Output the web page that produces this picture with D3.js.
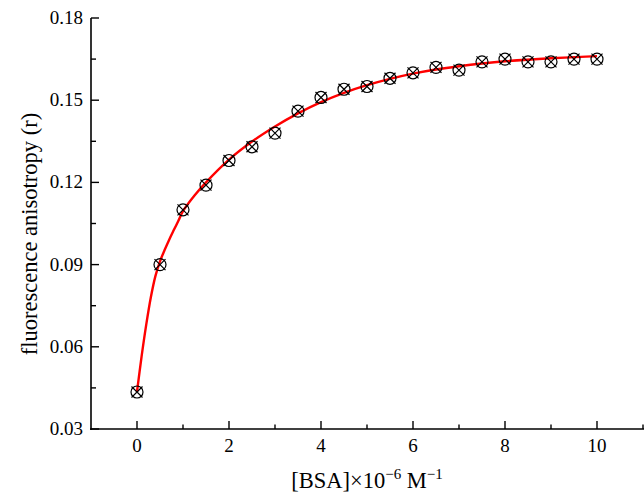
<!DOCTYPE html>
<html>
<head>
<meta charset="utf-8">
<script src="https://cdn.jsdelivr.net/npm/d3@7"></script>
<style>
  body { margin: 0; background: #fff; }
  text { font-family: "Liberation Serif", "Times New Roman", serif; fill: #000; }
</style>
</head>
<body>
<div id="chart"></div>
<script>
// measured points: [BSA] concentration vs anisotropy
var bsa = [0, 0.5, 1, 1.5, 2, 2.5, 3, 3.5, 4, 4.5, 5, 5.5, 6, 6.5, 7, 7.5, 8, 8.5, 9, 9.5, 10];
var anisotropy = [0.0435, 0.090, 0.110, 0.119, 0.128, 0.133, 0.138, 0.146, 0.151, 0.154, 0.155,
                  0.158, 0.160, 0.162, 0.161, 0.164, 0.165, 0.164, 0.164, 0.165, 0.165];

// fitted curve
var fitX = [0, 0.1, 0.2, 0.3, 0.4, 0.5, 0.6, 0.7, 0.8, 0.9, 1, 1.25, 1.5, 2, 2.5, 3, 3.5, 4, 4.5,
            5, 5.5, 6, 6.5, 7, 7.5, 8, 9, 10];
var fitY = [0.0436, 0.0565, 0.0680, 0.0780, 0.0858, 0.0912, 0.0953, 0.0991, 0.1026, 0.1060, 0.1095,
            0.1152, 0.1200, 0.1283, 0.1349, 0.1404, 0.1452, 0.1493, 0.1527, 0.1555, 0.1578, 0.1597,
            0.1612, 0.1624, 0.1634, 0.1642, 0.1653, 0.1661];

var xMajor = [0, 2, 4, 6, 8, 10];
var xMinor = [1, 3, 5, 7, 9, 11];
var yMajor = [0.03, 0.06, 0.09, 0.12, 0.15, 0.18];
var yMinor = [0.045, 0.075, 0.105, 0.135, 0.165];

var width = 644, height = 494;
var margin = { top: 18, left: 91, right: 1, bottom: 65 };

var svg = d3.select("#chart").append("svg")
    .attr("width", width)
    .attr("height", height);

var x = d3.scaleLinear().domain([-1, 11]).range([margin.left, width - margin.right]);
var y = d3.scaleLinear().domain([0.03, 0.18]).range([height - margin.bottom, margin.top]);

var x0 = x(-1), y0 = y(0.03);

// x axis (ticks pointing inward)
var gx = svg.append("g");
gx.append("line")
    .attr("x1", x0 - 1).attr("x2", width).attr("y1", y0).attr("y2", y0)
    .attr("stroke", "#000").attr("stroke-width", 1.6);
gx.selectAll(".maj").data(xMajor).enter().append("line")
    .attr("x1", d => x(d)).attr("x2", d => x(d))
    .attr("y1", y0).attr("y2", y0 - 8)
    .attr("stroke", "#000").attr("stroke-width", 1.4);
gx.selectAll(".min").data(xMinor).enter().append("line")
    .attr("x1", d => x(d)).attr("x2", d => x(d))
    .attr("y1", y0).attr("y2", y0 - 4.5)
    .attr("stroke", "#000").attr("stroke-width", 1.4);
gx.selectAll("text").data(xMajor).enter().append("text")
    .attr("x", d => x(d)).attr("y", y0 + 23)
    .attr("text-anchor", "middle")
    .style("font-size", "19px")
    .text(d => d);

// y axis
var gy = svg.append("g");
gy.append("line")
    .attr("x1", x0).attr("x2", x0).attr("y1", y0 + 1).attr("y2", y(0.18))
    .attr("stroke", "#000").attr("stroke-width", 1.6);
gy.selectAll(".maj").data(yMajor).enter().append("line")
    .attr("x1", x0).attr("x2", x0 + 8)
    .attr("y1", d => y(d)).attr("y2", d => y(d))
    .attr("stroke", "#000").attr("stroke-width", 1.4);
gy.selectAll(".min").data(yMinor).enter().append("line")
    .attr("x1", x0).attr("x2", x0 + 5)
    .attr("y1", d => y(d)).attr("y2", d => y(d))
    .attr("stroke", "#000").attr("stroke-width", 1.4);
gy.selectAll("text").data(yMajor).enter().append("text")
    .attr("x", x0 - 8).attr("y", d => y(d) + 6)
    .attr("text-anchor", "end")
    .style("font-size", "19px")
    .text(d => d.toFixed(2));

// fitted curve
var line = d3.line()
    .x((d, i) => x(fitX[i]))
    .y(d => y(d))
    .curve(d3.curveCatmullRom);

svg.append("path")
    .datum(fitY)
    .attr("d", line)
    .attr("fill", "none")
    .attr("stroke", "#ff0000")
    .attr("stroke-width", 2.4);

// markers: circle with a cross
var pts = svg.selectAll(".pt").data(bsa).enter().append("g")
    .attr("transform", (d, i) => "translate(" + x(d) + "," + y(anisotropy[i]) + ")");
pts.append("circle")
    .attr("r", 6)
    .attr("fill", "none")
    .attr("stroke", "#000")
    .attr("stroke-width", 1.2);
var s = 5.5;
pts.append("path")
    .attr("d", "M" + (-s) + "," + (-s) + "L" + s + "," + s + "M" + (-s) + "," + s + "L" + s + "," + (-s))
    .attr("stroke", "#000")
    .attr("stroke-width", 1.2);

// axis titles
svg.append("text")
    .attr("x", 367).attr("y", 488)
    .attr("text-anchor", "middle")
    .style("font-size", "22.5px")
    .html('[BSA]×10<tspan dy="-9" font-size="15px">−6</tspan><tspan dy="9"> M</tspan><tspan dy="-9" font-size="15px">−1</tspan>');

svg.append("text")
    .attr("transform", "translate(37,234) rotate(-90)")
    .attr("text-anchor", "middle")
    .style("font-size", "22.5px")
    .text("fluorescence anisotropy (r)");
</script>
</body>
</html>
